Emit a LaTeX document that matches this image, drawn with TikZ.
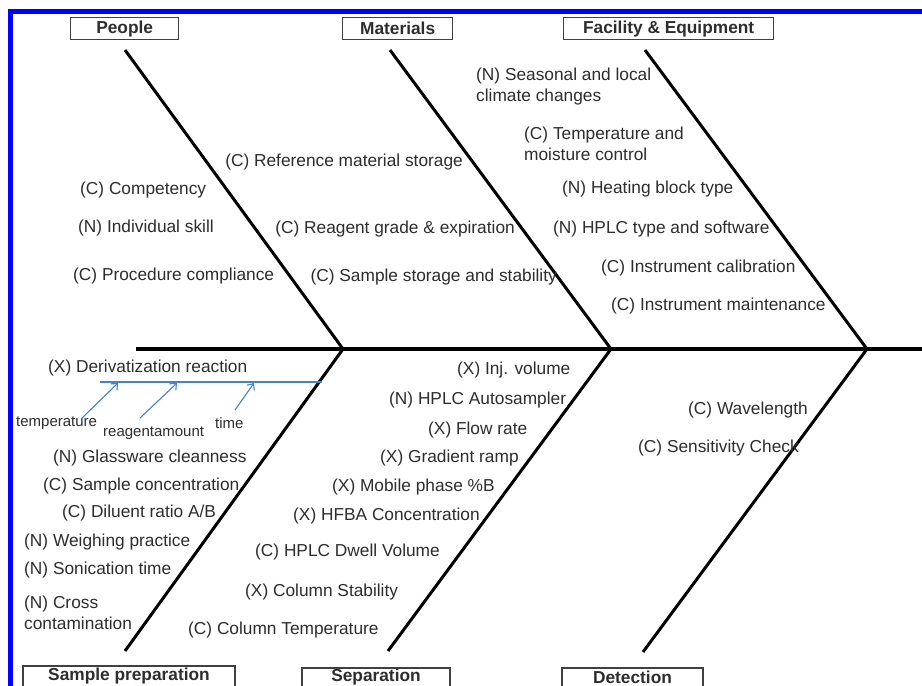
\documentclass[tikz,border=0pt]{standalone}
\usepackage{fontspec}
\setmainfont{Liberation Sans}
\usetikzlibrary{arrows.meta}
\definecolor{txt}{RGB}{45,45,45}
\definecolor{bblue}{RGB}{0,0,255}
\definecolor{lblue}{RGB}{70,130,205}
\begin{document}
\begin{tikzpicture}[x=1pt,y=-1pt,
  lbl/.style={font=\fontsize{17.3}{21}\selectfont, text=txt, inner sep=0pt, anchor=west, align=left},
  lble/.style={lbl, anchor=east},
  sml/.style={font=\fontsize{15}{18}\selectfont, text=txt, inner sep=0pt, anchor=west},
  cat/.style={draw=black!75, line width=1.3pt, font=\bfseries\fontsize{17.3}{20}\selectfont, text=txt, inner sep=0pt, minimum height=22pt, anchor=north west},
  cattxt/.style={font=\bfseries\fontsize{17.3}{20}\selectfont, text=txt, inner sep=0pt},
  catframe/.style={draw=black!75, line width=1.3pt},
  bone/.style={line width=3pt},
  spine/.style={line width=4pt},
  sub/.style={draw=lblue, line width=1.1pt},
  subarrow/.style={draw=lblue, line width=1.1pt, -{Straight Barb[length=5pt,width=9pt]}}
]
\useasboundingbox (0,0) rectangle (922,686);
\fill[white] (0,0) rectangle (922,686);
% blue frame
\draw[bblue, line width=5.5pt] (10.5,11.5) rectangle (940,700);

% category boxes (top)
\node[cat, minimum width=108pt] (people) at (70,17) {People};
\node[cat, minimum width=110pt] (materials) at (342,17) {Materials};
\node[cat, minimum width=210pt] (facility) at (563,17) {Facility \& Equipment};
% category boxes (bottom, cut by the lower edge)
\draw[catframe] (23,695) |- (235,666) -- (235,695);
\node[cattxt] (sampprep) at (129,676) {Sample preparation};
\draw[catframe] (302,695) |- (450,668) -- (450,695);
\node[cattxt] (separation) at (376,677) {Separation};
\draw[catframe] (562,695) |- (703,668) -- (703,695);
\node[cattxt, anchor=base] (detection) at (632.5,683) {Detection};

% spine and bones
\coordinate (spL) at (136,349);
\coordinate (spR) at (925,349);
\coordinate (j1) at (343,349);
\coordinate (j2) at (611,349);
\coordinate (j3) at (867,349);
\coordinate (pTop) at (125,50);
\coordinate (mTop) at (390,50);
\coordinate (fTop) at (645,50);
\coordinate (sBot) at (125,651);
\coordinate (eBot) at (388,651);
\coordinate (dBot) at (643,652);
\draw[spine] (spL) -- (spR);
\draw[bone] (pTop) -- (j1);
\draw[bone] (mTop) -- (j2);
\draw[bone] (fTop) -- (j3);
\draw[bone] (j1) -- (sBot);
\draw[bone] (j2) -- (eBot);
\draw[bone] (j3) -- (dBot);

% People
\node[lbl] (comp) at (80,190) {(C) Competency};
\node[lbl] (indiv) at (78,228) {(N) Individual skill};
\node[lbl] (proc) at (73,276) {(C) Procedure compliance};
% Materials
\node[lble] (refmat) at (463,162) {(C) Reference material storage};
\node[lble] (reagent) at (515,229) {(C) Reagent grade \& expiration};
\node[lble] (sampst) at (557,277) {(C) Sample storage and stability};
% Facility
\node[lbl] (seasonal) at (476,86.5) {(N) Seasonal and local\\climate changes};
\node[lbl] (tempmoist) at (524,144) {(C) Temperature and\\moisture control};
\node[lbl] (heating) at (562,189) {(N) Heating block type};
\node[lbl] (hplctype) at (553,229) {(N) HPLC type and software};
\node[lbl] (calib) at (601,268) {(C) Instrument calibration};
\node[lbl] (maint) at (611,306) {(C) Instrument maintenance};

% Sample preparation
\node[lbl] (deriv) at (48,368) {(X) Derivatization reaction};
\coordinate (dL) at (100,382);
\coordinate (dR) at (322,382);
\draw[sub] (dL) -- (dR);
\node[sml] (temperature) at (16,423) {temperature};
\node[sml] (reagamt) at (103,433) {reagentamount};
\node[sml] (time) at (215,423) {time};
\coordinate (a1s) at (82,418);
\coordinate (a1e) at (118,383);
\coordinate (a2s) at (140,418);
\coordinate (a2e) at (177,383);
\coordinate (a3s) at (235,410);
\coordinate (a3e) at (254,383);
\draw[subarrow] (a1s) -- (a1e);
\draw[subarrow] (a2s) -- (a2e);
\draw[subarrow] (a3s) -- (a3e);
\node[lbl] (glass) at (53,458) {(N) Glassware cleanness};
\node[lbl] (sampconc) at (43,486) {(C) Sample concentration};
\node[lbl] (diluent) at (62,513) {(C) Diluent ratio A/B};
\node[lbl] (weigh) at (24,542) {(N) Weighing practice};
\node[lbl] (sonic) at (24,570) {(N) Sonication time};
\node[lbl] (cross) at (24,612.5) {(N) Cross\\contamination};

% Separation
\node[lbl] (inj) at (457,370) {(X) Inj. volume};
\node[lbl] (autos) at (389,400) {(N) HPLC Autosampler};
\node[lbl] (flow) at (428,430) {(X) Flow rate};
\node[lbl] (grad) at (380,458) {(X) Gradient ramp};
\node[lbl] (mobile) at (332,487) {(X) Mobile phase \%B};
\node[lbl] (hfba) at (293,516) {(X) HFBA Concentration};
\node[lbl] (dwell) at (255,552) {(C) HPLC Dwell Volume};
\node[lbl] (colstab) at (245,592) {(X) Column Stability};
\node[lbl] (coltemp) at (188,630) {(C) Column Temperature};

% Detection
\node[lbl] (wave) at (688,410) {(C) Wavelength};
\node[lbl] (sens) at (638,448) {(C) Sensitivity Check};
\end{tikzpicture}
\end{document}
